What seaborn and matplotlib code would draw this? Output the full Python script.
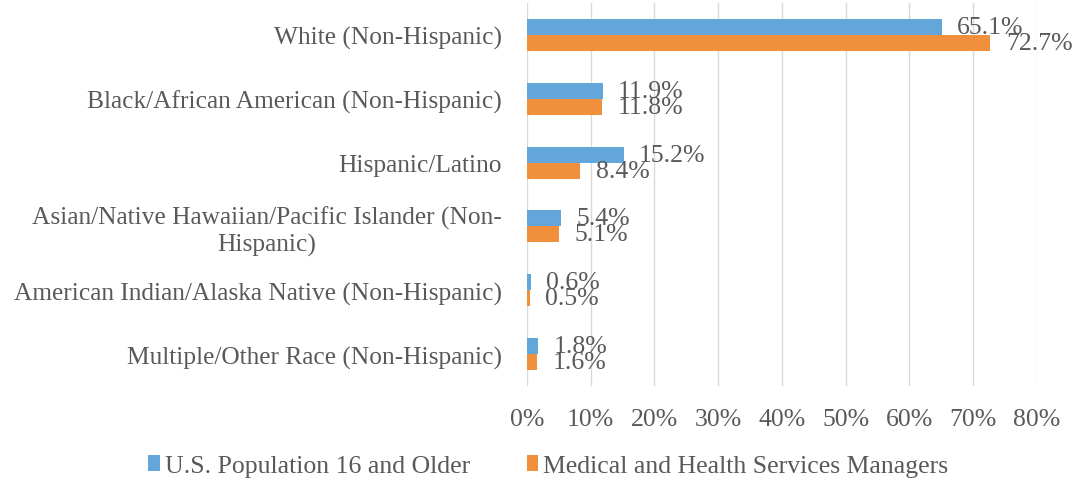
import matplotlib
matplotlib.use("Agg")
import matplotlib.pyplot as plt
import seaborn as sns
import pandas as pd
from matplotlib.patches import Patch
from matplotlib.ticker import PercentFormatter

categories = [
    "White (Non-Hispanic)",
    "Black/African American (Non-Hispanic)",
    "Hispanic/Latino",
    "Asian/Native Hawaiian/Pacific Islander (Non-\nHispanic)",
    "American Indian/Alaska Native (Non-Hispanic)",
    "Multiple/Other Race (Non-Hispanic)",
]
series_names = ["U.S. Population 16 and Older", "Medical and Health Services Managers"]
us_population = [65.1, 11.9, 15.2, 5.4, 0.6, 1.8]
managers = [72.7, 11.8, 8.4, 5.1, 0.5, 1.6]
x_ticks = [0, 10, 20, 30, 40, 50, 60, 70, 80]

colors = ["#63A7DA", "#F0903D"]
text_color = "#595959"

df = pd.DataFrame({
    "category": categories * 2,
    "series": [series_names[0]] * len(categories) + [series_names[1]] * len(categories),
    "value": us_population + managers,
})

sns.set_theme(style="white")
plt.rcParams["font.family"] = ["Liberation Serif", "DejaVu Serif"]

fig = plt.figure(figsize=(10.75, 4.81), dpi=100)
ax = fig.add_axes([0.490, 0.195, 0.4747, 0.797])

sns.barplot(data=df, y="category", x="value", hue="series", order=categories,
            hue_order=series_names, palette=colors, orient="h", width=0.5,
            saturation=1, ax=ax, legend=False, linewidth=0)

for container in ax.containers:
    ax.bar_label(container, labels=[f"{v:.1f}%" for v in container.datavalues],
                 padding=11, fontsize=18.5, color=text_color)

ax.set_xlim(0, 80)
ax.set_ylim(5.5, -0.5)
ax.set_xticks(x_ticks)
ax.xaxis.set_major_formatter(PercentFormatter(decimals=0))
ax.grid(axis="x", color="#D9D9D9", linewidth=1)
ax.set_axisbelow(True)
for s in ax.spines.values():
    s.set_visible(False)
ax.tick_params(axis="x", length=0, labelsize=18.5, colors=text_color, pad=16)
ax.tick_params(axis="y", length=0, labelsize=18.3, colors=text_color, pad=18)
for lbl in ax.get_yticklabels():
    lbl.set_multialignment("center")
ax.set_xlabel("")
ax.set_ylabel("")

handles = [Patch(facecolor=c, edgecolor="none") for c in colors]
fig.legend(handles, series_names, loc="center", bbox_to_anchor=(0.51, 1 - 467 / 481),
           ncol=2, frameon=False, fontsize=18.5, handlelength=0.45, handleheight=0.6,
           handletextpad=0.2, columnspacing=2.2, labelcolor=text_color,
           borderpad=0, borderaxespad=0)

fig.savefig("out.png", dpi=100)
